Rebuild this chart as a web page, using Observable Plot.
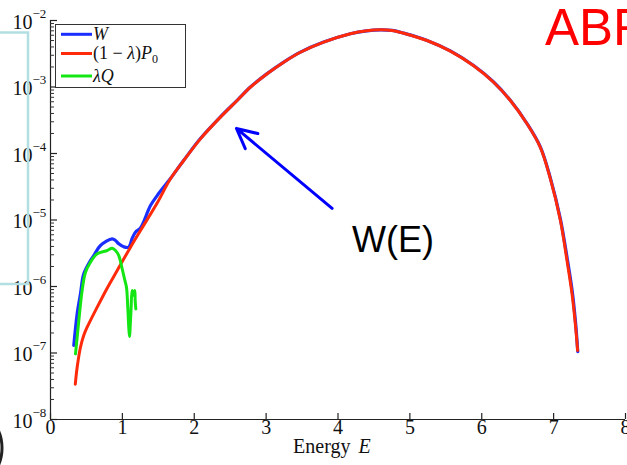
<!DOCTYPE html>
<html><head><meta charset="utf-8">
<script src="https://cdn.jsdelivr.net/npm/d3@7"></script>
<script src="https://cdn.jsdelivr.net/npm/@observablehq/plot@0.6"></script>
<style>
body{margin:0;background:#fff}
#chart{position:relative;width:627px;height:465px;overflow:hidden;background:#fff}
</style>
</head><body><div id="chart"></div>
<script>
// ---- data ----
const redE = [0.345,0.371,0.417,0.463,0.510,0.650,0.790,0.928,1.113,1.252,1.484,1.669,1.854,2.086,2.364,2.597,2.782,3.014,3.245,3.477,3.801,4.172,4.40,4.59,4.75,4.914,5.239,5.563,5.887,6.165,6.398,6.630,6.815,6.954,7.093,7.186,7.256,7.302,7.334];
const redV = [3.4e-8,6.1e-8,1.22e-7,1.85e-7,2.44e-7,4.89e-7,9.5e-7,1.74e-6,3.90e-6,6.95e-6,1.80e-5,4.17e-5,7.85e-5,1.66e-4,3.52e-4,6.27e-4,9.93e-4,1.58e-3,2.36e-3,3.33e-3,4.72e-3,6.31e-3,7.0e-3,7.24e-3,7.1e-3,6.44e-3,5.00e-3,3.47e-3,2.09e-3,1.18e-3,6.27e-4,2.80e-4,1.24e-4,4.2e-5,1.0e-5,2.46e-6,7.76e-7,2.75e-7,1.09e-7];

const blueE = [0.324,0.371,0.417,0.463,0.556,0.602,0.695,0.858,0.904,0.950,1.019,1.089,1.136,1.182,1.252,1.391,1.484,1.669,1.854,2.086,2.364,2.597,2.782,3.014,3.245,3.477,3.801,4.172,4.40,4.59,4.75,4.914,5.239,5.563,5.887,6.165,6.398,6.630,6.815,6.954,7.093,7.190,7.262,7.306,7.336];
const blueV = [1.3e-7,3.9e-7,7.8e-7,1.55e-6,2.46e-6,2.92e-6,4.14e-6,5.21e-6,4.92e-6,4.38e-6,3.95e-6,3.90e-6,5.3e-6,6.56e-6,7.6e-6,1.65e-5,2.33e-5,4.2e-5,7.9e-5,1.68e-4,3.55e-4,6.3e-4,1.0e-3,1.59e-3,2.37e-3,3.34e-3,4.73e-3,6.32e-3,7.0e-3,7.25e-3,7.1e-3,6.45e-3,5.02e-3,3.49e-3,2.1e-3,1.19e-3,6.3e-4,2.82e-4,1.26e-4,4.3e-5,1.05e-5,2.6e-6,8.0e-7,2.8e-7,1.05e-7];

const greenE = [0.348,0.371,0.394,0.440,0.487,0.556,0.650,0.789,0.858,0.904,0.950,0.997,1.029,1.057,1.075,1.089,1.099,1.113,1.122,1.136,1.159,1.173,1.178,1.187];
const greenV = [9.7e-8,1.73e-7,3.08e-7,8.7e-7,1.64e-6,2.32e-6,3.10e-6,3.48e-6,3.77e-6,3.48e-6,2.92e-6,1.85e-6,1.31e-6,9.75e-7,4.89e-7,2.44e-7,1.77e-7,3.08e-7,4.89e-7,8.7e-7,7.3e-7,8.7e-7,6.2e-7,4.6e-7];

const xTicks = [0,1,2,3,4,5,6,7,8];
const yDecades = [1e-8,1e-7,1e-6,1e-5,1e-4,1e-3,1e-2];
const yMinor = yDecades.slice(0,-1).flatMap(d => [2,3,4,5,6,7,8,9].map(k => k*d));

const legendLabels = [
  {color:"#1a2fff", parts:[{t:"W", i:true}]},
  {color:"#ff2a0a", parts:[{t:"(1 − "},{t:"λ", i:true},{t:")"},{t:"P", i:true},{t:"0", sub:true}]},
  {color:"#14e614", parts:[{t:"λQ", i:true}]}
];
const arrowData = [{x1:3.918, y1:1.50e-5, x2:2.587, y2:2.38e-4}];
const annot = [{E:4.196, v:5.0e-6, text:"W(E)"}];
const slideTitle = "ABR";

// ---- build ----
const W = 627, H = 465, mL = 50, mR = 2, mT = 20, mB = 46;
const plotW = W - mL - mR, plotH = H - mT - mB;
const serif = "'Liberation Serif','Times New Roman',serif";
const sans = "'Liberation Sans',Arial,sans-serif";
const toPts = (E, V) => E.map((e, i) => ({E: e, v: V[i]}));

const plot = Plot.plot({
  width: W, height: H,
  marginLeft: mL, marginRight: mR, marginTop: mT, marginBottom: mB,
  style: {background: "transparent", overflow: "visible", fontFamily: serif},
  x: {domain: [0, 8], axis: null},
  y: {type: "log", domain: [1e-8, 1e-2], axis: null},
  marks: [
    Plot.ruleX([0], {stroke: "#222", strokeWidth: 1.2}),
    Plot.ruleY([1e-8], {stroke: "#222", strokeWidth: 1.2}),
    Plot.tickY(yMinor, {y: d => d, stroke: "#333", strokeWidth: 1, insetRight: plotW - 4}),
    Plot.tickY(yDecades, {y: d => d, stroke: "#222", strokeWidth: 1.2, insetRight: plotW - 7}),
    Plot.tickX(xTicks, {x: d => d, stroke: "#222", strokeWidth: 1.2, insetTop: plotH - 6}),
    Plot.text(xTicks, {x: d => d, frameAnchor: "bottom", dy: 14, text: d => String(d), fontSize: 20, fontFamily: serif, fill: "#111"}),
    Plot.text(yDecades, {y: d => d, frameAnchor: "left", dx: -18, dy: 2, text: () => "10", textAnchor: "end", fontSize: 20, fontFamily: serif, fill: "#111"}),
    Plot.text(yDecades, {y: d => d, frameAnchor: "left", dx: -18, dy: -7, text: d => "−" + Math.round(-Math.log10(d)), textAnchor: "start", fontSize: 13, fontFamily: serif, fill: "#111"}),
    Plot.text(["Energy"], {frameAnchor: "bottom", dx: 12.5, dy: 33, text: d => d, textAnchor: "end", fontSize: 20, fontFamily: serif, fill: "#111"}),
    Plot.text(["E"], {frameAnchor: "bottom", dx: 20.5, dy: 33, text: d => d, textAnchor: "start", fontSize: 20, fontStyle: "italic", fontFamily: serif, fill: "#111"}),
    Plot.line(toPts(blueE, blueV), {x: "E", y: "v", stroke: legendLabels[0].color, strokeWidth: 3.2, curve: "catmull-rom"}),
    Plot.line(toPts(redE, redV), {x: "E", y: "v", stroke: legendLabels[1].color, strokeWidth: 3, curve: "catmull-rom"}),
    Plot.line(toPts(greenE, greenV), {x: "E", y: "v", stroke: legendLabels[2].color, strokeWidth: 3, curve: "catmull-rom"}),
    Plot.arrow(arrowData, {x1: "x1", y1: "y1", x2: "x2", y2: "y2", stroke: "#0000ff", strokeWidth: 3, headLength: 11, headAngle: 53}),
    Plot.text(annot, {x: "E", y: "v", text: "text", textAnchor: "start", fontSize: 36, fontFamily: sans, fill: "#000"})
  ]
});

const svg = d3.select(plot);
// slide decorations
svg.append("path").attr("d", "M0,32.5H28V284H0").attr("fill", "none").attr("stroke", "#b3dfe3").attr("stroke-width", 2.5);
svg.append("circle").attr("cx", -40).attr("cy", 448).attr("r", 42).attr("fill", "none").attr("stroke", "#222").attr("stroke-width", 3);
svg.append("text").attr("x", 545).attr("y", 45).attr("text-anchor", "start").attr("font-family", sans).attr("font-size", 51).attr("fill", "#ff0000").text(slideTitle);

// legend
const lg = svg.append("g");
lg.append("rect").attr("x", 55.5).attr("y", 24.5).attr("width", 130).attr("height", 63).attr("fill", "#fff").attr("stroke", "#333").attr("stroke-width", 1);
const rowsY = [34.3, 53.5, 76];
legendLabels.forEach((L, i) => {
  const y = rowsY[i];
  lg.append("line").attr("x1", 61).attr("x2", 92).attr("y1", y).attr("y2", y).attr("stroke", L.color).attr("stroke-width", 3);
  const t = lg.append("text").attr("x", 93).attr("y", y + 5.5).attr("text-anchor", "start").attr("font-family", serif).attr("font-size", 18).attr("fill", "#111");
  L.parts.forEach(p => {
    const s = t.append("tspan").text(p.t);
    if (p.i) s.attr("font-style", "italic");
    if (p.sub) s.attr("font-size", 12).attr("dy", 4);
  });
});

document.getElementById("chart").appendChild(plot);
</script>
</body></html>
